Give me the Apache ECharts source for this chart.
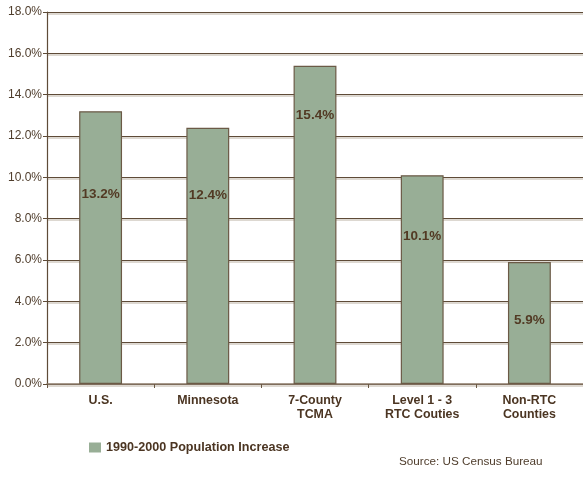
<!DOCTYPE html>
<html>
<head>
<meta charset="utf-8">
<script src="https://cdn.jsdelivr.net/npm/echarts@6/dist/echarts.min.js"></script>
<style>
  html, body { margin: 0; padding: 0; background: #ffffff; }
  #chart { width: 583px; height: 487px; }
</style>
</head>
<body>
<div id="chart"></div>
<script>
// Population growth by region, 1990-2000
const categories = ['U.S.', 'Minnesota', '7-County\nTCMA', 'Level 1 - 3\nRTC Couties', 'Non-RTC\nCounties'];
const increasePct = [13.2, 12.4, 15.4, 10.1, 5.9];
const seriesName = '1990-2000 Population Increase';
const sourceNote = 'Source: US Census Bureau';

// How far each value label sits below the top of its bar (px)
const labelDrop = [76, 61, 43, 54, 51];

const FONT = '"Liberation Sans", Arial, sans-serif';
const TEXT = '#4b3522';
const GRID = '#5e4b38';

const chart = echarts.init(document.getElementById('chart'), null, { renderer: 'canvas' });

chart.setOption({
  animation: false,
  backgroundColor: '#ffffff',
  grid: { left: 47, right: -6, top: 12, bottom: 103, containLabel: false },
  legend: {
    left: 89,
    top: 441,
    padding: 0,
    itemWidth: 12,
    itemHeight: 10,
    itemGap: 6,
    icon: 'rect',
    itemStyle: { borderWidth: 0 },
    data: [seriesName],
    textStyle: { fontFamily: FONT, fontSize: 12.6, fontWeight: 'bold', color: TEXT, padding: [0, 0, 0, 0] }
  },
  graphic: [{
    type: 'text',
    left: 399,
    top: 456,
    style: { text: sourceNote, font: '11.7px ' + FONT, fill: '#4f3d2c' }
  }],
  xAxis: {
    type: 'category',
    data: categories,
    axisLine: { lineStyle: { color: '#8a7a68', width: 1.5 } },
    axisTick: { show: true, length: 4, lineStyle: { color: '#6a5844' } },
    axisLabel: {
      fontFamily: FONT, fontSize: 12.4, fontWeight: 'bold', color: TEXT,
      lineHeight: 14, margin: 10, interval: 0
    }
  },
  yAxis: {
    type: 'value',
    min: 0,
    max: 18,
    interval: 2,
    axisLine: { show: true, lineStyle: { color: '#5e4b38', width: 1.2 } },
    axisTick: { show: true, length: 4, lineStyle: { color: '#5e4b38' } },
    axisLabel: {
      fontFamily: FONT, fontSize: 12, color: '#4f3d2c', margin: 5,
      formatter: v => v.toFixed(1) + '%'
    },
    splitLine: {
      show: true,
      lineStyle: { color: GRID, width: 1, shadowColor: 'rgba(160,145,125,0.7)', shadowOffsetY: 1.5, shadowBlur: 0 }
    }
  },
  series: [{
    name: seriesName,
    type: 'bar',
    barWidth: '40%',
    data: increasePct.map((v, i) => ({
      value: v,
      label: { distance: labelDrop[i] }
    })),
    itemStyle: { color: '#98ae96', borderColor: '#6b5a46', borderWidth: 1.2 },
    label: {
      show: true,
      position: 'insideTop',
      fontFamily: FONT,
      fontSize: 13.5,
      fontWeight: 'bold',
      color: '#523a24',
      formatter: p => p.value.toFixed(1) + '%'
    }
  }]
});
</script>
</body>
</html>
